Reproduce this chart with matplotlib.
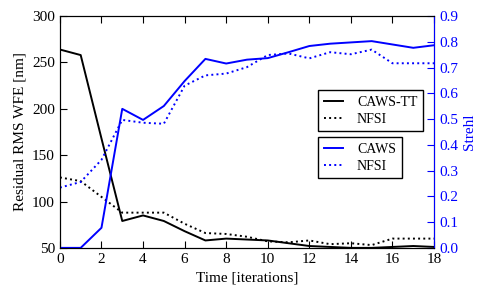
import matplotlib
matplotlib.use("Agg")
import matplotlib.pyplot as plt

# iterations
time = list(range(19))

# residual RMS WFE [nm]
caws_tt_wfe = [264, 258, 168, 79, 85, 79, 68, 58, 60, 59, 58, 55, 52, 51, 50, 50, 51, 52, 51]
nfsi_wfe = [126, 122, 105, 88, 88, 88, 76, 66, 65, 62, 57, 56, 58, 54, 55, 53, 60, 60, 60]

# Strehl
caws_strehl = [0.0, 0.0, 0.078, 0.54, 0.497, 0.551, 0.648, 0.734, 0.716, 0.731, 0.737,
               0.76, 0.784, 0.793, 0.798, 0.803, 0.79, 0.777, 0.787]
nfsi_strehl = [0.234, 0.256, 0.342, 0.497, 0.486, 0.482, 0.63, 0.67, 0.677, 0.702, 0.749,
               0.755, 0.736, 0.76, 0.752, 0.77, 0.717, 0.717, 0.717]

plt.rcParams['font.family'] = ['Liberation Serif', 'DejaVu Serif']
plt.rcParams['font.size'] = 11
plt.rcParams['xtick.direction'] = 'in'
plt.rcParams['ytick.direction'] = 'in'

fig = plt.figure(figsize=(4.91, 2.99), dpi=100)
ax = fig.add_axes([0.122, 0.171, 0.762, 0.775])

l1, = ax.plot(time, caws_tt_wfe, color='black', lw=1.4, label='CAWS-TT')
l2, = ax.plot(time, nfsi_wfe, color='black', lw=1.4, ls=':', label='NFSI')
ax.set_xlim(0, 18)
ax.set_ylim(50, 300)
ax.set_xticks(range(0, 19, 2))
ax.tick_params(top=True, length=5, width=0.8)
ax.set_xlabel('Time [iterations]')
ax.set_ylabel('Residual RMS WFE [nm]')

ax2 = ax.twinx()
l3, = ax2.plot(time, caws_strehl, color='blue', lw=1.4, label='CAWS')
l4, = ax2.plot(time, nfsi_strehl, color='blue', lw=1.4, ls=':', label='NFSI')
ax2.set_ylim(0, 0.9)
ax2.set_yticks([i / 10 for i in range(10)])
ax2.tick_params(axis='y', colors='blue', direction='in', length=5, width=0.8)
ax2.spines['right'].set_color('blue')
ax2.set_ylabel('Strehl', color='blue')

leg_kw = dict(loc='upper left', borderaxespad=0, fancybox=False, edgecolor='black',
              framealpha=1, handlelength=1.4, handletextpad=1.0, borderpad=0.4,
              labelspacing=0.3, fontsize=10)
leg1 = ax2.legend(handles=[l1, l2], bbox_to_anchor=(0.69, 0.681), **leg_kw)
leg1.get_frame().set_linewidth(1.0)
ax2.add_artist(leg1)
leg2 = ax2.legend(handles=[l3, l4], bbox_to_anchor=(0.69, 0.478), **leg_kw)
leg2.get_frame().set_linewidth(1.0)

fig.savefig('out.png', dpi=100)
